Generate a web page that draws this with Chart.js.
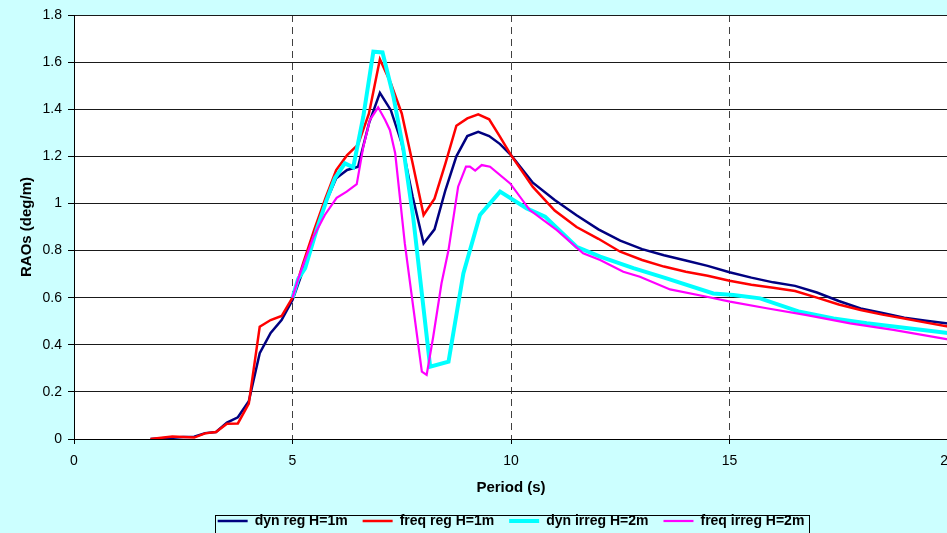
<!DOCTYPE html>
<html>
<head>
<meta charset="utf-8">
<script src="https://cdn.jsdelivr.net/npm/chart.js@4.4.1/dist/chart.umd.min.js"></script>
<style>
html,body{margin:0;padding:0;overflow:hidden;background:#CCFFFF;width:947px;height:533px;}
#wrap{position:absolute;left:0;top:0;width:1000px;height:538px;}
canvas{display:block;}
</style>
</head>
<body>
<div id="wrap"><canvas id="c" width="1000" height="538"></canvas></div>
<script>
// ---- data ----
const seriesNames = ['dyn reg H=1m', 'freq reg H=1m', 'dyn irreg H=2m', 'freq irreg H=2m'];

const regPeriods = [1.75,2,2.25,2.5,2.75,3,3.25,3.5,3.75,4,4.25,4.5,4.75,5,5.25,5.5,5.75,6,6.25,6.5,6.75,7,7.25,7.5,7.75,8,8.25,8.5,8.75,9,9.25,9.5,9.75,10,
  10.5,11,11.5,12,12.5,13,13.5,14,14.5,15,15.5,16,16.5,17,17.5,18,18.5,19,19.5,20];

const dynReg = [0,0.003,0.005,0.008,0.01,0.025,0.03,0.07,0.092,0.16,0.364,0.45,0.505,0.59,0.72,0.87,1.0,1.107,1.142,1.156,1.34,1.47,1.396,1.255,1.028,0.83,0.89,1.057,1.2,1.286,1.304,1.286,1.252,1.205,
  1.088,1.015,0.95,0.89,0.842,0.806,0.78,0.758,0.735,0.708,0.685,0.665,0.65,0.622,0.586,0.554,0.535,0.515,0.502,0.49];

const freqReg = [0,0.005,0.011,0.008,0.006,0.024,0.03,0.065,0.066,0.15,0.477,0.505,0.522,0.6,0.75,0.89,1.02,1.142,1.205,1.25,1.382,1.612,1.51,1.382,1.17,0.951,1.02,1.17,1.33,1.361,1.378,1.357,1.283,1.205,
  1.07,0.97,0.9,0.85,0.795,0.76,0.732,0.71,0.693,0.672,0.655,0.642,0.628,0.6,0.571,0.548,0.528,0.512,0.494,0.477];

const dynIrregPeriods = [5.0,5.13,5.29,5.55,5.78,5.97,6.2,6.39,6.62,6.85,7.06,7.31,7.54,7.76,8.15,8.57,8.91,9.29,9.75,10.36,10.78,11.5,12.04,12.8,13.56,14.63,15.09,15.7,16.61,17.38,18.14,18.9,20];
const dynIrreg = [0.6,0.68,0.725,0.887,1.014,1.107,1.17,1.153,1.368,1.644,1.641,1.453,1.227,0.944,0.307,0.328,0.703,0.951,1.05,0.979,0.944,0.816,0.774,0.725,0.682,0.618,0.611,0.597,0.54,0.512,0.491,0.474,0.45];

const freqIrregPeriods = [5.0,5.13,5.48,5.74,6.01,6.24,6.47,6.62,6.77,6.96,7.12,7.23,7.35,7.57,7.77,7.96,8.07,8.22,8.41,8.57,8.79,8.97,9.06,9.18,9.33,9.52,9.98,10.43,11.05,11.65,12.04,12.57,12.95,13.64,14.48,15.01,15.85,16.77,17.76,18.75,20];
const freqIrreg = [0.6,0.68,0.859,0.951,1.024,1.05,1.082,1.24,1.354,1.408,1.354,1.311,1.213,0.83,0.55,0.286,0.272,0.434,0.661,0.802,1.071,1.156,1.156,1.139,1.163,1.156,1.085,0.972,0.887,0.788,0.76,0.71,0.689,0.635,0.604,0.583,0.555,0.526,0.491,0.463,0.423];

const xTitle = 'Period (s)';
const yTitle = 'RAOs (deg/m)';

// ---- build ----
const toXY = (xs, ys) => xs.map((x, i) => ({x: x, y: ys[i]}));
const FONT = "'Liberation Sans', Arial, Helvetica, sans-serif";
Chart.defaults.font.family = FONT;
Chart.defaults.color = '#000';

const bgPlugin = {
  id: 'bg',
  beforeDraw(chart) {
    const {ctx, chartArea: a} = chart;
    ctx.save();
    ctx.fillStyle = '#CCFFFF';
    ctx.fillRect(0, 0, chart.width, chart.height);
    ctx.fillStyle = '#FFFFFF';
    ctx.fillRect(a.left, a.top, a.right - a.left, a.bottom - a.top);
    ctx.restore();
  },
  afterDraw(chart) {
    const lg = chart.legend;
    if (!lg || !lg.legendHitBoxes || !lg.legendHitBoxes.length) return;
    const hb = lg.legendHitBoxes;
    let l = Infinity, r = -Infinity, t = Infinity;
    hb.forEach(h => { l = Math.min(l, h.left); r = Math.max(r, h.left + h.width); t = Math.min(t, h.top); });
    const ctx = chart.ctx;
    ctx.save();
    ctx.strokeStyle = '#000';
    ctx.lineWidth = 1;
    ctx.strokeRect(Math.round(l - 3) + 0.5, Math.round(t + 1) + 0.5, Math.round(r - l + 7), 26);
    ctx.restore();
  }
};

new Chart(document.getElementById('c'), {
  type: 'line',
  data: {
    datasets: [
      {label: seriesNames[0], data: toXY(regPeriods, dynReg), borderColor: '#000080', backgroundColor: '#000080', borderWidth: 2.5, order: 4},
      {label: seriesNames[1], data: toXY(regPeriods, freqReg), borderColor: '#FF0000', backgroundColor: '#FF0000', borderWidth: 2.5, order: 3},
      {label: seriesNames[2], data: toXY(dynIrregPeriods, dynIrreg), borderColor: '#00FFFF', backgroundColor: '#00FFFF', borderWidth: 4, order: 2},
      {label: seriesNames[3], data: toXY(freqIrregPeriods, freqIrreg), borderColor: '#FF00FF', backgroundColor: '#FF00FF', borderWidth: 2.2, order: 1}
    ]
  },
  options: {
    responsive: false,
    animation: false,
    devicePixelRatio: 1,
    layout: {padding: {left: 0, right: 52, top: 15, bottom: 0}},
    elements: {point: {radius: 0, hoverRadius: 0}, line: {tension: 0, fill: false}},
    plugins: {
      tooltip: {enabled: false},
      legend: {
        position: 'bottom',
        fullSize: false,
        reverse: true,
        labels: {
          usePointStyle: true,
          pointStyle: 'line',
          pointStyleWidth: 30,
          padding: 15,
          color: '#000',
          font: {size: 14, weight: 'bold', family: FONT}
        }
      }
    },
    scales: {
      x: {
        type: 'linear',
        min: 0, max: 20,
        afterFit(s) { s.height = 60; },
        ticks: {stepSize: 5, padding: 9, color: '#000', font: {size: 14}},
        grid: {
          color: (c) => (c.tick && (c.tick.value === 0 || c.tick.value === 20)) ? 'rgba(0,0,0,0)' : '#404040',
          tickColor: '#000',
          tickLength: 5,
          lineWidth: 1
        },
        border: {display: true, color: '#000', width: 1, dash: [7, 5]},
        title: {display: true, text: xTitle, color: '#000', font: {size: 15, weight: 'bold'}, padding: {top: 2, bottom: 2}}
      },
      y: {
        min: 0, max: 1.8,
        afterFit(s) { s.width = 74; },
        ticks: {stepSize: 0.2, padding: 6, color: '#000', font: {size: 14},
          callback: (v) => String(Math.round(v * 10) / 10)},
        grid: {color: '#1a1a1a', tickColor: '#000', tickLength: 6, lineWidth: 1},
        border: {display: true, color: '#000', width: 1},
        title: {display: true, text: yTitle, color: '#000', font: {size: 15, weight: 'bold'}, padding: {top: 18, bottom: 0}}
      }
    }
  },
  plugins: [bgPlugin]
});
</script>
</body>
</html>
